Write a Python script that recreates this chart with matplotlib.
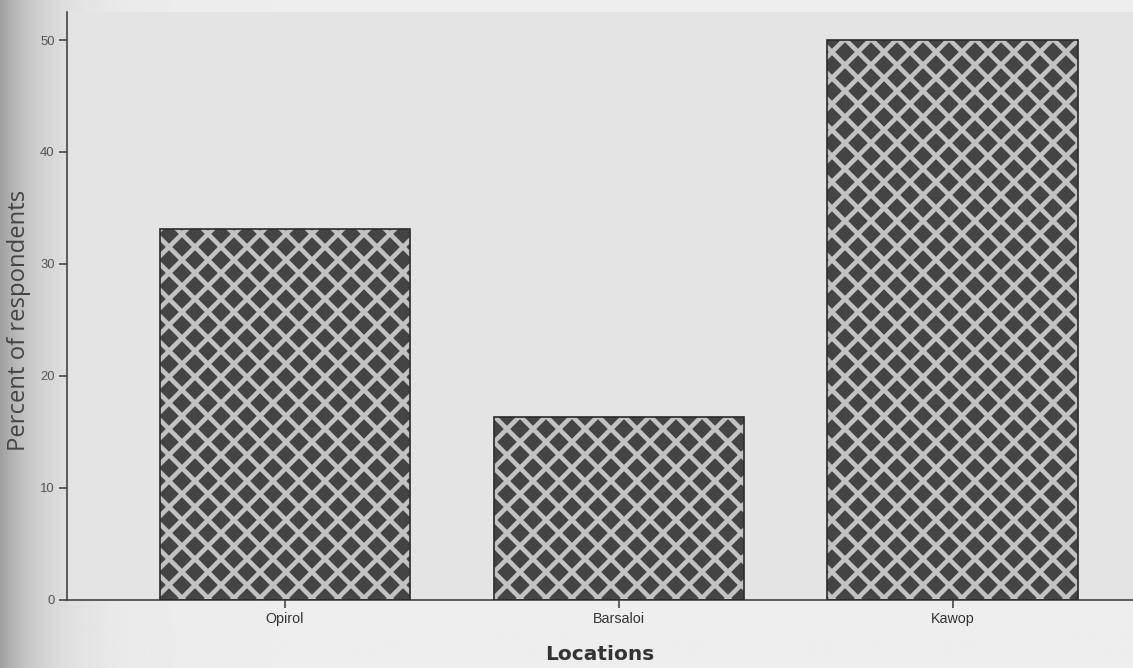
import numpy as np
import matplotlib.pyplot as plt

locations = ["Opirol", "Barsaloi", "Kawop"]
percent = [33.1, 16.3, 50.0]
yticks = [0, 10, 20, 30, 40, 50]

# render at a lower dpi so the hatch comes out finer; S keeps sizes as at 100 dpi
DPI = 78
S = 100 / DPI

plt.rcParams["font.family"] = ["Liberation Sans", "DejaVu Sans"]
plt.rcParams["hatch.linewidth"] = 4.2
plt.rcParams["hatch.color"] = "#c2c2c2"

fig = plt.figure(figsize=(1133 / DPI, 668 / DPI), dpi=DPI, facecolor="#e9e9e9")

# scanned-page shading on the left margin
bg = fig.add_axes([0, 0, 1, 1], zorder=-5)
xs = np.linspace(0, 1, 400)
shade = 0.93 - 0.30 * np.exp(-xs / 0.035)
bg.imshow(np.tile(shade, (10, 1)), cmap="gray", vmin=0, vmax=1, aspect="auto",
          extent=[0, 1, 0, 1])
bg.axis("off")

ax = fig.add_axes([0.059, 0.102, 0.941, 0.880])
ax.set_facecolor("#e4e4e4")

x = np.arange(len(locations))
ax.bar(x, percent, width=0.75, color="#444444", hatch="x", linewidth=0, zorder=2)
ax.bar(x, percent, width=0.75, fill=False, edgecolor="#2a2a2a", linewidth=1.2 * S, zorder=3)

ax.set_xlim(-0.653, 2.54)
ax.set_ylim(0, 52.5)
ax.set_xticks(x)
ax.set_xticklabels(locations, fontsize=10.3 * S, color="#333333")
ax.set_yticks(yticks)
ax.set_yticklabels([str(v) for v in yticks], fontsize=9.5 * S, color="#555555")
ax.tick_params(axis="both", length=6 * S, width=1.2 * S, color="#444444")

for s in ["top", "right"]:
    ax.spines[s].set_visible(False)
for s in ["left", "bottom"]:
    ax.spines[s].set_color("#444444")
    ax.spines[s].set_linewidth(1.2 * S)

ax.set_ylabel("Percent of respondents", fontsize=17.2 * S, color="#444444",
              family=["Open Sans", "DejaVu Sans"])
ax.yaxis.set_label_coords(-0.034, 0.475)
ax.set_xlabel("Locations", fontsize=14.5 * S, color="#333333", weight="bold",
              family=["DejaVu Sans"], labelpad=14 * S)

fig.savefig("out.png", dpi=DPI, facecolor=fig.get_facecolor())
